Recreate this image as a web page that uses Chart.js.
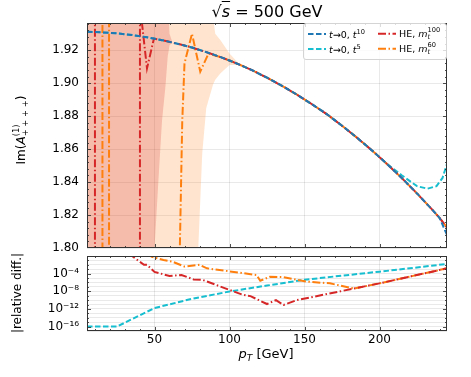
<!DOCTYPE html>
<html>
<head>
<meta charset="utf-8">
<script src="https://cdn.jsdelivr.net/npm/chart.js@4.4.1/dist/chart.umd.min.js"></script>
<style>
  body { margin: 0; background: #fff; }
  #figure { position: relative; width: 471px; height: 377px; font-family: 'DejaVu Sans', sans-serif; color: #000; overflow: hidden; }
  canvas { position: absolute; left: 0; }
  #mainPlot { top: 0; }
  #diffPlot { top: 252px; }
  .label { position: absolute; white-space: nowrap; transform: translate(-50%, -50%); line-height: 1; }
  .rot { transform: translate(-50%, -50%) rotate(-90deg); }
  .ss { display: inline-flex; flex-direction: column; vertical-align: middle; font-size: 70%; line-height: 1.1; }
  #legend { position: absolute; left: 303px; top: 23px; width: 144px; height: 37px; box-sizing: border-box;
            border: 1px solid #d4d4d4; border-radius: 3px; background: rgba(255,255,255,0.8); font-size: 9.5px; }
  .item { position: absolute; display: flex; align-items: center; white-space: nowrap; transform: translateY(-50%); }
  .item svg { margin-right: 3px; }
  .item sup { font-size: 70%; }
</style>
</head>
<body>
<div id="figure">
  <canvas id="mainPlot" width="471" height="258"></canvas>
  <canvas id="diffPlot" width="471" height="125"></canvas>
  <div class="label" style="left:267px; top:12px; font-size:16px;">√<span style="text-decoration:overline"><i>s</i></span> = 500 GeV</div>
  <div class="label rot" style="left:21px; top:130px; font-size:12px;">Im(<i>A</i><span class="ss"><span>(1)</span><span>+ + + +</span></span>)</div>
  <div class="label rot" style="left:17px; top:293px; font-size:12px;">|relative diff.|</div>
  <div class="label" style="left:266px; top:355px; font-size:13px;"><i>p</i><sub style="font-size:70%"><i>T</i></sub> [GeV]</div>
  <div id="legend"></div>
</div>
<script>
// ---- upper panel: Im(A) vs pT ----
const ptCurve = [5, 15, 25, 35, 45, 55, 65, 75, 85, 95, 105, 115, 125, 135, 145, 155, 165, 175, 185, 195, 205, 215, 225, 235, 240, 245];
const imT10 = [1.9312, 1.9308, 1.9302, 1.9292, 1.9278, 1.9261, 1.9240, 1.9216, 1.9187, 1.9155, 1.9119, 1.9079, 1.9033, 1.8984,
               1.8930, 1.8872, 1.8811, 1.8742, 1.8669, 1.8592, 1.8510, 1.8423, 1.8331, 1.8234, 1.8183, 1.808];

const ptT5 = [5, 15, 25, 35, 45, 55, 65, 75, 85, 95, 105, 115, 125, 135, 145, 155, 165, 175, 185, 195, 205, 215, 225, 232, 238, 242, 245];
const imT5 = [1.9312, 1.9308, 1.9302, 1.9292, 1.9278, 1.9261, 1.9240, 1.9216, 1.9187, 1.9155, 1.9119, 1.9079, 1.9033, 1.8984,
              1.8930, 1.8872, 1.8811, 1.8742, 1.8669, 1.8592, 1.8510, 1.8440, 1.8375, 1.8360, 1.8375, 1.8425, 1.851];

const ptHE100 = [5, 10.3, 10.3, 40.3, 40.3, 41.2, 45, 49.6, 55, 65, 75, 85, 95, 105, 115, 125, 135, 145, 155, 165, 175, 185, 195, 205, 215, 225, 235, 240, 245];
const imHE100 = [2.5, 2.5, 1.5, 1.5, 2.5, 1.94, 1.909, 1.927, 1.9261, 1.9240, 1.9216, 1.9187, 1.9155, 1.9119, 1.9079, 1.9033, 1.8984,
                 1.8930, 1.8872, 1.8811, 1.8742, 1.8669, 1.8592, 1.8510, 1.8423, 1.8331, 1.8234, 1.8183, 1.8125];

const ptHE60 = [5, 15.3, 15.3, 19.7, 19.7, 66.4, 66.9, 68.5, 70, 75, 80.5, 86, 95, 105, 115, 125, 135, 145, 155, 165, 175, 185, 195, 205, 215, 225, 235, 240, 245];
const imHE60 = [1.5, 1.5, 2.5, 2.5, 1.5, 1.5, 1.80, 1.877, 1.912, 1.930, 1.907, 1.918, 1.9155, 1.9119, 1.9079, 1.9033, 1.8984,
                1.8930, 1.8872, 1.8811, 1.8742, 1.8669, 1.8592, 1.8510, 1.8423, 1.8331, 1.8234, 1.8183, 1.8125];

// uncertainty bands (values outside the axis range run off the plot)
const ptBand100 = [5, 50, 53, 55, 57.3, 58.8, 59.5, 60, 62];
const band100Lo = [1.5, 1.80, 1.847, 1.877, 1.898, 1.916, 1.920, 1.923, 1.9247];
const band100Hi = [2.5, 2.5, 2.5, 2.5, 2.5, 2.5, 1.94, 1.930, 1.9247];
const ptBand60 = [5, 79.2, 81.8, 84.5, 89, 90.5, 94, 100, 107];
const band60Lo = [1.5, 1.80, 1.857, 1.885, 1.899, 1.902, 1.906, 1.911, 1.911];
const band60Hi = [2.5, 2.5, 2.5, 2.5, 1.94, 1.930, 1.926, 1.918, 1.911];

// ---- lower panel: |relative diff.| ----
const ptDiffT5 = [5, 25, 35, 50, 75, 100, 125, 150, 175, 200, 225, 245];
const diffT5 = [1e-16, 1e-16, 5e-15, 1.6e-12, 2e-10, 9e-9, 2e-7, 4e-6, 3.5e-5, 2.8e-4, 2.5e-3, 1.6e-2];
const ptDiffHE100 = [34, 35, 43, 45, 50, 60, 68, 76, 82, 100, 109, 114, 125, 131, 136, 145, 183, 200, 245];
const diffHE100 = [10, 1, 1e-2, 1e-2, 2.5e-4, 3e-5, 5e-5, 5e-6, 4e-6, 2e-8, 1.6e-9, 8e-10, 1.3e-11, 1e-10, 8e-12, 1e-10, 4.3e-8, 6.3e-7, 1.6e-3];
const ptDiffHE60 = [46, 48, 56, 62, 70, 80, 85, 118, 120.5, 127, 136, 151, 167, 183, 200, 245];
const diffHE60 = [10, 0.7, 0.12, 0.05, 4e-3, 1e-2, 1.6e-3, 5e-5, 2.5e-6, 2e-5, 1.6e-5, 1.6e-6, 6.3e-7, 4.3e-8, 6.3e-7, 1.6e-3];

// ticks
const xTicks = [50, 100, 150, 200];
const yTicksTop = [1.80, 1.82, 1.84, 1.86, 1.88, 1.90, 1.92];
const diffDecades = [-17, -16, -15, -14, -13, -12, -11, -10, -9, -8, -7, -6, -5, -4, -3, -2, -1, 0];
const diffLabelled = [-16, -12, -8, -4];

const style = {
  t10:   { label: '<i>t</i>→0, <i>t</i><sup>10</sup>', color: '#1f77b4', dash: [5.5, 2.5] },
  t5:    { label: '<i>t</i>→0, <i>t</i><sup>5</sup>', color: '#17becf', dash: [5.5, 2.5] },
  he100: { label: 'HE, <i>m</i><span class="ss"><span>100</span><span><i>t</i></span></span>', color: '#d62728', dash: [8, 2.5, 1.5, 2.5] },
  he60:  { label: 'HE, <i>m</i><span class="ss"><span>60</span><span><i>t</i></span></span>', color: '#ff7f0e', dash: [8, 2.5, 1.5, 2.5] }
};
const gridColor = 'rgba(0,0,0,0.11)';
const tickFont = { family: "'DejaVu Sans', sans-serif", size: 12 };

function pts(xs, ys) { return xs.map((x, i) => ({ x: x, y: ys[i] })); }

function lineSet(key, xs, ys, order) {
  const s = style[key];
  return { data: pts(xs, ys), borderColor: s.color, borderDash: s.dash, borderWidth: 2,
           pointRadius: 0, tension: 0, fill: false, clip: 0, order: order, borderCapStyle: 'butt' };
}

function bandSet(xs, ys, color, fill, order) {
  return { data: pts(xs, ys), borderWidth: 0, borderColor: 'transparent', backgroundColor: color,
           pointRadius: 0, tension: 0, fill: fill, order: order };
}

function fixBox(size) {
  return s => {
    if (s.isHorizontal()) s.height = size; else s.width = size;
    s.paddingTop = s.paddingBottom = s.paddingLeft = s.paddingRight = 0;
  };
}

// inward tick marks on all four sides + black frame
const frameTicks = {
  id: 'frameTicks',
  afterDatasetsDraw(chart, args, opts) {
    const { ctx, chartArea: a, scales } = chart;
    ctx.save();
    ctx.strokeStyle = '#222';
    ctx.lineWidth = 0.8;
    const seg = (x1, y1, x2, y2) => { ctx.beginPath(); ctx.moveTo(x1, y1); ctx.lineTo(x2, y2); ctx.stroke(); };
    opts.x.forEach(([v, len]) => {
      const p = Math.round(scales.x.getPixelForValue(v)) + 0.5;
      seg(p, a.bottom, p, a.bottom - len);
      seg(p, a.top, p, a.top + len);
    });
    opts.y.forEach(([v, len]) => {
      const p = Math.round(scales.y.getPixelForValue(v)) + 0.5;
      seg(a.left, p, a.left + len, p);
      seg(a.right, p, a.right - len, p);
    });
    ctx.lineWidth = 1;
    ctx.strokeStyle = '#333';
    ctx.strokeRect(a.left + 0.5, a.top + 0.5, a.width - 1, a.height - 1);
    ctx.restore();
  }
};

const xMarks = [];
for (let v = 10; v <= 240; v += 10) xMarks.push([v, xTicks.includes(v) ? 4 : 2]);
const yMarksTop = [];
for (let k = 1; k <= 34; k++) yMarksTop.push([1.80 + k * 0.004, k % 5 === 0 ? 4 : 2]);
const yMarksDiff = diffDecades.slice(1, -1).map(e => [Math.pow(10, e), diffLabelled.includes(e) ? 4 : 2]);

const commonX = {
  type: 'linear', min: 5, max: 245,
  afterBuildTicks: s => { s.ticks = xTicks.map(v => ({ value: v })); },
  grid: { color: gridColor, lineWidth: 0.8, drawTicks: false },
  border: { display: false }
};

new Chart(document.getElementById('mainPlot'), {
  type: 'line',
  data: {
    datasets: [
      bandSet(ptBand60, band60Hi, 'rgba(255,127,14,0.2)', '+1', 30),
      bandSet(ptBand60, band60Lo, 'transparent', false, 30),
      bandSet(ptBand100, band100Hi, 'rgba(214,39,40,0.22)', '+1', 20),
      bandSet(ptBand100, band100Lo, 'transparent', false, 20),
      lineSet('t5', ptT5, imT5, 6),
      lineSet('he60', ptHE60, imHE60, 4),
      lineSet('he100', ptHE100, imHE100, 3),
      lineSet('t10', ptCurve, imT10, 1)
    ]
  },
  options: {
    responsive: false, animation: false, events: [],
    layout: { padding: { left: 0, right: 24, top: 23, bottom: 10 } },
    plugins: {
      legend: { display: false }, tooltip: { enabled: false },
      frameTicks: { x: xMarks, y: yMarksTop }
    },
    scales: {
      x: Object.assign({}, commonX, { afterFit: fixBox(0), ticks: { display: false } }),
      y: {
        min: 1.80, max: 1.9365,
        afterBuildTicks: s => { s.ticks = yTicksTop.map(v => ({ value: v })); },
        afterFit: fixBox(87),
        ticks: { font: tickFont, color: '#000', padding: 8, callback: v => v.toFixed(2) },
        grid: { color: gridColor, lineWidth: 0.8, drawTicks: false },
        border: { display: false }
      }
    }
  },
  plugins: [frameTicks]
});

const supDigits = { '-': '⁻', '0': '⁰', '1': '¹', '2': '²', '3': '³', '4': '⁴', '5': '⁵', '6': '⁶', '7': '⁷', '8': '⁸', '9': '⁹' };

new Chart(document.getElementById('diffPlot'), {
  type: 'line',
  data: {
    datasets: [
      lineSet('t5', ptDiffT5, diffT5, 5),
      lineSet('he60', ptDiffHE60, diffHE60, 4),
      lineSet('he100', ptDiffHE100, diffHE100, 3)
    ]
  },
  options: {
    responsive: false, animation: false, events: [],
    layout: { padding: { left: 0, right: 24, top: 4, bottom: 0 } },
    plugins: {
      legend: { display: false }, tooltip: { enabled: false },
      frameTicks: { x: xMarks, y: yMarksDiff }
    },
    scales: {
      x: Object.assign({}, commonX, {
        afterFit: fixBox(46),
        ticks: { font: tickFont, color: '#000', padding: 2, maxRotation: 0 }
      }),
      y: {
        type: 'logarithmic', min: 1e-17, max: 1,
        afterBuildTicks: s => { s.ticks = diffDecades.map(e => ({ value: Math.pow(10, e) })); },
        afterFit: fixBox(87),
        ticks: {
          font: tickFont, color: '#000', padding: 8, autoSkip: false,
          callback: v => {
            const e = Math.round(Math.log10(v));
            return diffLabelled.includes(e) ? '10' + String(e).split('').map(c => supDigits[c]).join('') : '';
          }
        },
        grid: { color: gridColor, lineWidth: 0.8, drawTicks: false },
        border: { display: false }
      }
    }
  },
  plugins: [frameTicks]
});

// legend, two columns like the original
const legendLayout = [['t10', 4, 10], ['t5', 4, 25], ['he100', 74, 10], ['he60', 74, 25]];
document.getElementById('legend').innerHTML = legendLayout.map(([key, left, top]) => {
  const s = style[key];
  return '<div class="item" style="left:' + left + 'px; top:' + top + 'px;">' +
    '<svg width="18" height="6"><line x1="0" y1="3" x2="18" y2="3" stroke="' + s.color +
    '" stroke-width="2" stroke-dasharray="' + s.dash.join(' ') + '"/></svg><span>' + s.label + '</span></div>';
}).join('');
</script>
</body>
</html>
